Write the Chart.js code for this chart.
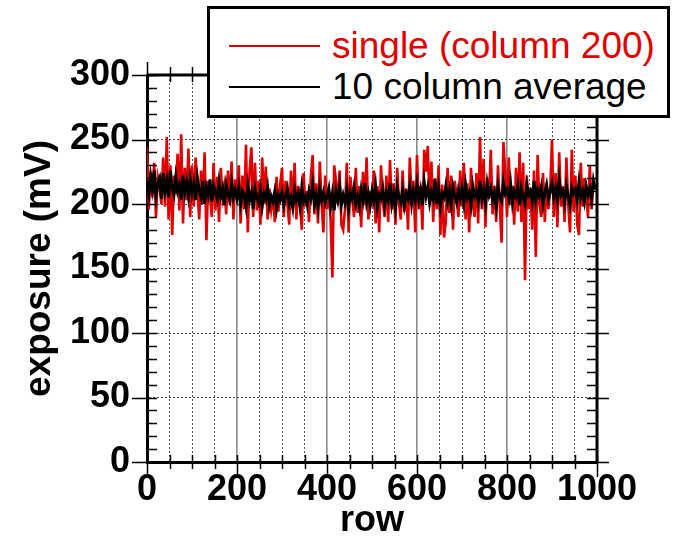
<!DOCTYPE html>
<html>
<head>
<meta charset="utf-8">
<script src="https://cdn.jsdelivr.net/npm/chart.js@4.4.1/dist/chart.umd.min.js"></script>
<style>
  html, body { margin:0; padding:0; background:#fff; }
  #wrap { position:relative; width:673px; height:539px; }
  #legend {
    position:absolute; left:207px; top:6px; width:457px; height:106px;
    border:3px solid #000; background:#fff;
    font-family:"Liberation Sans", Arial, sans-serif; font-size:37px;
  }
  .lg-row { position:absolute; left:19px; height:44px; display:flex; align-items:center; white-space:nowrap; }
  .lg-line { display:inline-block; width:91px; height:2px; margin-right:12px; }
  .lg-text { line-height:44px; }
</style>
</head>
<body>
<div id="wrap">
  <canvas id="exposure-chart" width="673" height="539"></canvas>
  <div id="legend">
    <div class="lg-row" style="top:15px;"><span class="lg-line" style="background:#e00000"></span><span class="lg-text" style="color:#e00000">single (column 200)</span></div>
    <div class="lg-row" style="top:56px;"><span class="lg-line" style="background:#000"></span><span class="lg-text">10 column average</span></div>
  </div>
</div>
<script>
/* ── data (every 4th row) ── */
var rowStep = 4;
var rowCount = 250;

var singleColumn = [
  244,196,225,205,232,190,221,214,200,236,198,252,188,230,176,222,208,239,195,254,185,228,203,243,190,
  230,198,236,212,188,226,200,240,172,218,206,190,232,195,221,186,228,205,214,192,226,199,233,188,219,
  204,230,185,222,196,246,178,226,244,190,232,195,218,184,236,200,229,188,212,196,207,186,221,194,215,
  228,190,218,200,184,226,196,232,188,214,202,180,224,198,210,186,220,238,192,216,185,233,200,178,222,
  196,212,188,143,230,218,200,226,184,180,196,232,178,221,204,190,228,193,214,182,225,199,236,188,210,
  198,226,185,214,178,230,202,190,222,186,234,196,216,184,228,200,188,226,194,212,180,236,205,218,178,
  238,196,214,180,242,225,245,200,233,186,220,196,230,176,215,174,186,228,193,222,180,218,206,190,226,
  198,232,188,216,178,228,200,190,224,185,252,196,235,182,220,204,242,192,214,186,230,198,170,248,226,
  190,236,200,214,184,228,194,240,186,232,141,222,196,212,180,226,159,238,200,190,224,186,216,196,210,
  250,190,224,182,240,198,214,186,236,200,178,242,194,222,184,176,232,198,220,206,190,230,196,215,212
];

var tenColumnAvg = [
  218,208,222,212,226,206,216,220,204,224,210,218,205,226,212,207,221,210,215,203,222,209,217,206,219,
  208,216,203,220,210,205,218,200,213,207,219,202,214,209,204,217,206,212,199,215,208,203,216,205,211,
  204,213,200,210,207,198,214,203,209,196,212,205,201,211,198,208,204,213,199,206,202,210,197,207,203,
  209,199,206,212,200,205,197,211,203,208,198,213,202,206,199,210,204,215,200,207,197,212,203,209,201,
  206,212,198,208,195,210,203,214,199,207,201,211,197,209,204,213,200,206,198,211,203,216,201,208,199,
  210,202,214,198,207,204,212,199,209,203,216,200,208,197,213,205,201,211,199,208,204,214,200,210,203,
  215,203,211,199,217,206,213,201,209,204,219,200,212,198,208,205,214,202,210,199,213,206,201,211,204,
  212,201,215,205,209,199,214,206,210,202,218,204,211,200,216,207,212,203,209,198,214,205,202,217,208,
  211,204,216,201,210,206,214,199,212,205,200,215,207,210,202,218,203,211,206,213,200,209,215,204,210,
  216,205,212,203,219,207,210,201,214,206,199,213,208,211,203,217,205,210,202,214,207,212,204,218,211
];

var xTickLabels = [0, 200, 400, 600, 800, 1000];
var yTickLabels = [0, 50, 100, 150, 200, 250, 300];

var rows = [];
for (var i = 0; i < rowCount; i++) rows.push(i * rowStep);

function toPoints(vals){
  return vals.map(function(v, i){ return {x: rows[i], y: v}; });
}

var FONT = '"Liberation Sans", Arial, sans-serif';

/* tick marks on all four sides + top/right frame */
var frameTicks = {
  id: 'frameTicks',
  afterDatasetsDraw: function(chart){
    var c = chart.ctx, a = chart.chartArea;
    var xs = chart.scales.x, ys = chart.scales.y;
    var v, px, py, major;
    c.save();
    c.strokeStyle = '#000';
    c.lineWidth = 3;
    c.beginPath();
    c.moveTo(a.left, a.top); c.lineTo(a.right, a.top); c.lineTo(a.right, a.bottom);
    c.stroke();

    c.lineWidth = 1.5;
    c.beginPath();
    for (v = 0; v <= 300; v += 10) {
      py = Math.round(ys.getPixelForValue(v)) + 0.5;
      major = yTickLabels.indexOf(v) >= 0;
      c.moveTo(a.left - (major ? 15 : 0), py); c.lineTo(a.left + 10, py);
      c.moveTo(a.right - 10, py); c.lineTo(a.right + (major ? 12 : 0), py);
    }
    for (v = 0; v <= 1000; v += 50) {
      px = Math.round(xs.getPixelForValue(v)) + 0.5;
      major = xTickLabels.indexOf(v) >= 0;
      c.moveTo(px, a.bottom - 7); c.lineTo(px, a.bottom + (major ? 15 : 7));
      c.moveTo(px, a.top + 7); c.lineTo(px, a.top - (major ? 13 : 8));
    }
    c.stroke();
    c.restore();
  }
};

new Chart(document.getElementById('exposure-chart'), {
  type: 'line',
  data: {
    datasets: [{
      label: '10 column average',
      data: toPoints(tenColumnAvg),
      borderColor: '#000000',
      borderWidth: 3,
      pointRadius: 0,
      tension: 0
    },{
      label: 'single (column 200)',
      data: toPoints(singleColumn),
      borderColor: '#e00000',
      borderWidth: 2.6,
      pointRadius: 0,
      tension: 0
    }]
  },
  options: {
    responsive: false,
    animation: false,
    layout: { padding: { left: 0, top: 75, right: 76, bottom: 0 } },
    plugins: { legend: { display: false }, tooltip: { enabled: false } },
    scales: {
      x: {
        type: 'linear', min: 0, max: 1000,
        afterFit: function(s){ s.height = 77; },
        ticks: {
          stepSize: 50, autoSkip: false, maxRotation: 0, minRotation: 0,
          padding: 6, color: '#000',
          font: { family: FONT, size: 36, weight: 'bold' },
          callback: function(v){ return xTickLabels.indexOf(v) >= 0 ? String(v) : ''; }
        },
        grid: {
          drawTicks: false,
          color: function(ctx){ return xTickLabels.indexOf(ctx.tick.value) >= 0 ? '#8a8a8a' : '#555'; },
          lineWidth: function(ctx){ return xTickLabels.indexOf(ctx.tick.value) >= 0 ? 1.6 : 1; }
        },
        border: {
          display: true, color: '#000', width: 3,
          dash: function(ctx){ return (ctx.tick && xTickLabels.indexOf(ctx.tick.value) >= 0) ? [] : [2, 2]; }
        },
        title: {
          display: true, text: 'row', color: '#000',
          padding: { top: 0, bottom: 0 },
          font: { family: FONT, size: 36, weight: 'bold', lineHeight: 1.0 }
        }
      },
      y: {
        type: 'linear', min: 0, max: 300,
        afterFit: function(s){ s.width = 147; },
        ticks: {
          stepSize: 50, padding: 17, color: '#000',
          font: { family: FONT, size: 36, weight: 'bold' },
          callback: function(v){ return String(v); }
        },
        grid: { drawTicks: false, color: '#444', lineWidth: 1 },
        border: { display: true, color: '#000', width: 3, dash: [2, 2] },
        title: {
          display: true, text: 'exposure (mV)', color: '#000',
          padding: { top: 18, bottom: 0 },
          font: { family: FONT, size: 37, weight: 'bold', lineHeight: 1.2 }
        }
      }
    }
  },
  plugins: [frameTicks]
});
</script>
</body>
</html>
